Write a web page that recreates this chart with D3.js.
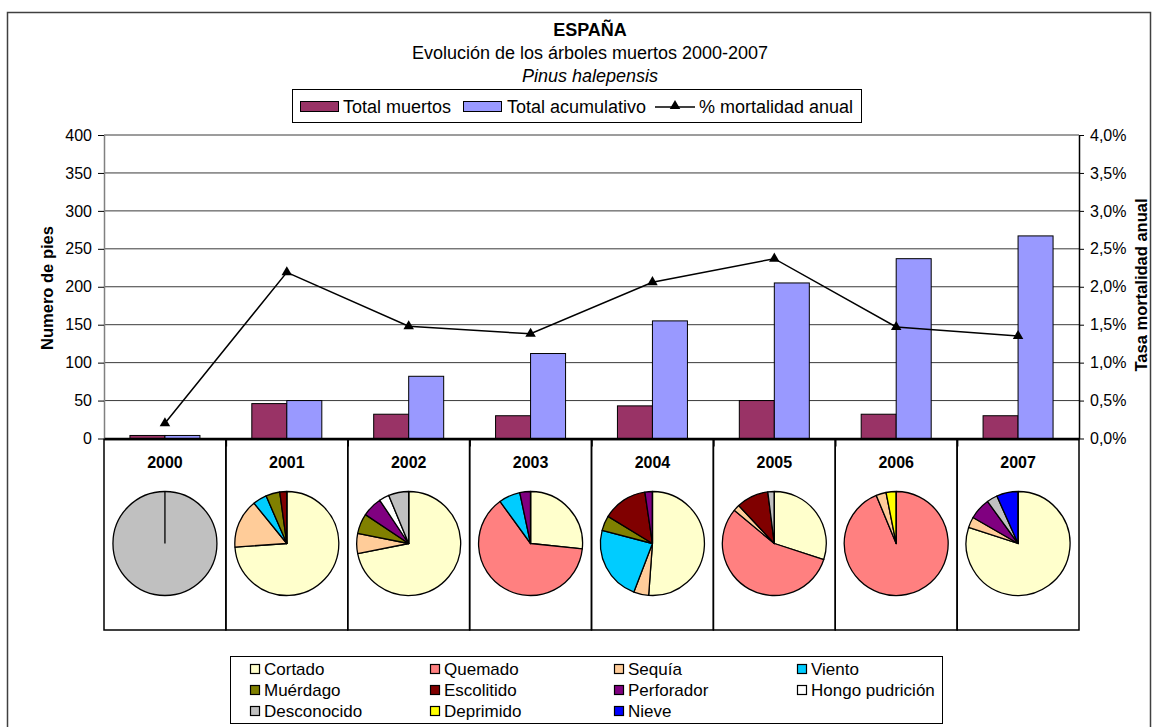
<!DOCTYPE html>
<html><head><meta charset="utf-8">
<script src="https://cdn.jsdelivr.net/npm/d3@7"></script>
<style>body{margin:0;background:#fff} svg{display:block;font-family:"Liberation Sans",Arial,sans-serif}</style>
</head><body><svg id="c" width="1157" height="727"></svg>
<script>
// ---------- DATA ----------
const anios = ["2000","2001","2002","2003","2004","2005","2006","2007"];
const totalMuertos = [4,46,32,30,43,50,32,30];
const totalAcumulativo = [4,50,82,112,155,205,237,267];
const mortalidadAnual = [0.20,2.19,1.48,1.38,2.06,2.37,1.47,1.35]; // %
const ticksIzq = [0,50,100,150,200,250,300,350,400];
const ticksDer = [0,0.5,1,1.5,2,2.5,3,3.5,4];

const causas = ["Cortado","Quemado","Sequía","Viento","Muérdago","Escolitido","Perforador","Hongo pudrición","Desconocido","Deprimido","Nieve"];
const coloresCausas = ["#FFFFCC","#FF8080","#FFCC99","#00CCFF","#808000","#800000","#800080","#FFFFFF","#C0C0C0","#FFFF00","#0000FF"];
const cortado     = [0,34,23,8,22,15,0,24];
const quemado     = [0,0,0,19,0,28,30,0];
const sequia      = [0,7,2,0,2,1,1,1];
const viento      = [0,2,0,2,10,0,0,0];
const muerdago    = [0,2,2,0,2,0,0,0];
const escolitido  = [0,1,0,0,6,5,0,0];
const perforador  = [0,0,2,1,1,0,0,2];
const hongo       = [0,0,1,0,0,0,0,0];
const desconocido = [4,0,2,0,0,1,0,1];
const deprimido   = [0,0,0,0,0,0,1,0];
const nieve       = [0,0,0,0,0,0,0,2];
const seriesCausas = [cortado,quemado,sequia,viento,muerdago,escolitido,perforador,hongo,desconocido,deprimido,nieve];

// ---------- LAYOUT ----------
const svg = d3.select("#c");
const L=104, R=1079, T=135, B=438.5;
const FONT_T = 18, FONT_TICK = 16;

svg.append("rect").attr("x",7.5).attr("y",12.5).attr("width",1143).attr("height",760)
  .attr("fill","#fff").attr("stroke","#404040").attr("stroke-width",1.5);

// titles
const TX = 590;
svg.append("text").attr("x",TX).attr("y",35.5).attr("text-anchor","middle")
  .attr("font-size",FONT_T).attr("font-weight","bold").text("ESPAÑA");
svg.append("text").attr("x",TX).attr("y",58.5).attr("text-anchor","middle")
  .attr("font-size",FONT_T).text("Evolución de los árboles muertos 2000-2007");
svg.append("text").attr("x",TX).attr("y",82).attr("text-anchor","middle")
  .attr("font-size",FONT_T).attr("font-style","italic").text("Pinus halepensis");

// scales
const x = d3.scaleBand().domain(anios).range([L,R]);
const xi = d3.scaleLinear().domain([0,anios.length]).range([L,R]);
const y = d3.scaleLinear().domain([0,400]).range([B,T]);
const y2 = d3.scaleLinear().domain([0,4]).range([B,T]);
const xs = d3.scaleBand().domain(["m","a"]).range([-35,35]);

// gridlines
svg.append("g").selectAll("line").data(ticksIzq.filter(d=>d>0)).join("line")
  .attr("x1",L).attr("x2",R).attr("y1",d=>y(d)).attr("y2",d=>y(d))
  .attr("stroke","#3a3a3a").attr("stroke-width",1);

// left axis
const gL = svg.append("g").attr("transform",`translate(${L},0)`)
  .call(d3.axisLeft(y).tickValues(ticksIzq).tickSize(6).tickPadding(6).tickSizeOuter(0));
gL.select(".domain").attr("stroke","#808080").attr("stroke-width",1.5);
gL.selectAll("text").attr("font-size",FONT_TICK).attr("font-family","Liberation Sans, Arial, sans-serif").attr("fill","#000");

// right axis
const gR = svg.append("g").attr("transform",`translate(${R},0)`)
  .call(d3.axisRight(y2).tickValues(ticksDer).tickSize(5).tickPadding(6).tickSizeOuter(0)
    .tickFormat(d=>d.toFixed(1).replace(".",",")+"%"));
gR.select(".domain").attr("stroke","#000").attr("stroke-width",1.5);
gR.selectAll("text").attr("font-size",FONT_TICK).attr("font-family","Liberation Sans, Arial, sans-serif").attr("fill","#000");

// axis titles
svg.append("text").attr("transform",`translate(47,288) rotate(-90)`).attr("text-anchor","middle")
  .attr("dy","0.35em").attr("font-size",16.5).attr("font-weight","bold").text("Numero de pies");
svg.append("text").attr("transform",`translate(1141,285) rotate(-90)`).attr("text-anchor","middle")
  .attr("dy","0.35em").attr("font-size",16.5).attr("font-weight","bold").text("Tasa mortalidad anual");

// bars
const gB = svg.append("g");
gB.selectAll("rect.m").data(totalMuertos).join("rect").attr("class","m")
  .attr("x",(d,i)=>x(anios[i])+x.bandwidth()/2+xs("m")).attr("width",xs.bandwidth())
  .attr("y",d=>y(d)).attr("height",d=>B-y(d))
  .attr("fill","#993366").attr("stroke","#000").attr("stroke-width",1);
gB.selectAll("rect.a").data(totalAcumulativo).join("rect").attr("class","a")
  .attr("x",(d,i)=>x(anios[i])+x.bandwidth()/2+xs("a")).attr("width",xs.bandwidth())
  .attr("y",d=>y(d)).attr("height",d=>B-y(d))
  .attr("fill","#9999FF").attr("stroke","#000").attr("stroke-width",1);

// x axis
const gX = svg.append("g").attr("transform",`translate(0,${B})`)
  .call(d3.axisBottom(xi).tickValues(d3.range(1,anios.length)).tickSize(8).tickFormat("").tickSizeOuter(0));
gX.select(".domain").attr("stroke","#000").attr("stroke-width",2.5);
gX.selectAll(".tick line").attr("stroke-width",1.5);

// line
const cx = i => x(anios[i])+x.bandwidth()/2;
svg.append("path").datum(mortalidadAnual)
  .attr("d",d3.line().x((d,i)=>cx(i)).y(d=>y2(d)))
  .attr("fill","none").attr("stroke","#000").attr("stroke-width",1.5);
svg.append("g").selectAll("path").data(mortalidadAnual).join("path")
  .attr("transform",(d,i)=>`translate(${cx(i)},${y2(d)})`)
  .attr("d",d3.symbol(d3.symbolTriangle,48)).attr("fill","#000");

// top legend
const lg = svg.append("g");
lg.append("rect").attr("x",292.5).attr("y",89.5).attr("width",569).attr("height",33)
  .attr("fill","#fff").attr("stroke","#000").attr("stroke-width",1);
lg.append("rect").attr("x",300.5).attr("y",101.5).attr("width",38).attr("height",10)
  .attr("fill","#993366").attr("stroke","#000");
lg.append("text").attr("x",343).attr("y",112.5).attr("font-size",FONT_T).text("Total muertos");
lg.append("rect").attr("x",463.5).attr("y",101.5).attr("width",38).attr("height",10)
  .attr("fill","#9999FF").attr("stroke","#000");
lg.append("text").attr("x",507).attr("y",112.5).attr("font-size",FONT_T).text("Total acumulativo");
lg.append("line").attr("x1",655).attr("x2",695).attr("y1",107).attr("y2",107).attr("stroke","#000").attr("stroke-width",1.5);
lg.append("path").attr("transform","translate(675,106)").attr("d",d3.symbol(d3.symbolTriangle,48)).attr("fill","#000");
lg.append("text").attr("x",699).attr("y",112.5).attr("font-size",FONT_T).text("% mortalidad anual");

// pie table
const tTop = 439.5, tBot = 630;
const gT = svg.append("g");
gT.selectAll("rect").data(anios).join("rect")
  .attr("x",d=>x(d)).attr("y",tTop).attr("width",x.bandwidth()).attr("height",tBot-tTop)
  .attr("fill","none").attr("stroke","#000").attr("stroke-width",1.5);
gT.selectAll("text").data(anios).join("text")
  .attr("x",d=>x(d)+x.bandwidth()/2).attr("y",468).attr("text-anchor","middle")
  .attr("font-size",16).attr("font-weight","bold").text(d=>d);

const pie = d3.pie().sort(null).value(d=>d.v);
const arc = d3.arc().innerRadius(0).outerRadius(52);
anios.forEach((a,i)=>{
  const vals = causas.map((c,k)=>({c:k, v:seriesCausas[k][i]})).filter(d=>d.v>0);
  const g = svg.append("g").attr("transform",`translate(${cx(i)},543.5)`);
  g.selectAll("path").data(pie(vals)).join("path").attr("d",arc)
    .attr("fill",d=>coloresCausas[d.data.c]).attr("stroke","#000").attr("stroke-width",1.3).attr("stroke-linejoin","round");
  g.append("line").attr("x1",0).attr("y1",0).attr("x2",0).attr("y2",-52).attr("stroke","#000").attr("stroke-width",1.3);
});

// bottom legend
const bl = svg.append("g");
bl.append("rect").attr("x",230.5).attr("y",656.5).attr("width",712).attr("height",67)
  .attr("fill","#fff").attr("stroke","#000").attr("stroke-width",1);
const colX = [250,430,614,797], rowY = [669,690,711];
causas.forEach((c,k)=>{
  const cx0 = colX[k%4], cy0 = rowY[Math.floor(k/4)];
  bl.append("rect").attr("x",cx0+0.5).attr("y",cy0-4.5).attr("width",9).attr("height",9)
    .attr("fill",coloresCausas[k]).attr("stroke","#000").attr("stroke-width",1.2);
  bl.append("text").attr("x",cx0+14).attr("y",cy0+6).attr("font-size",17).text(c);
});
</script></body></html>
